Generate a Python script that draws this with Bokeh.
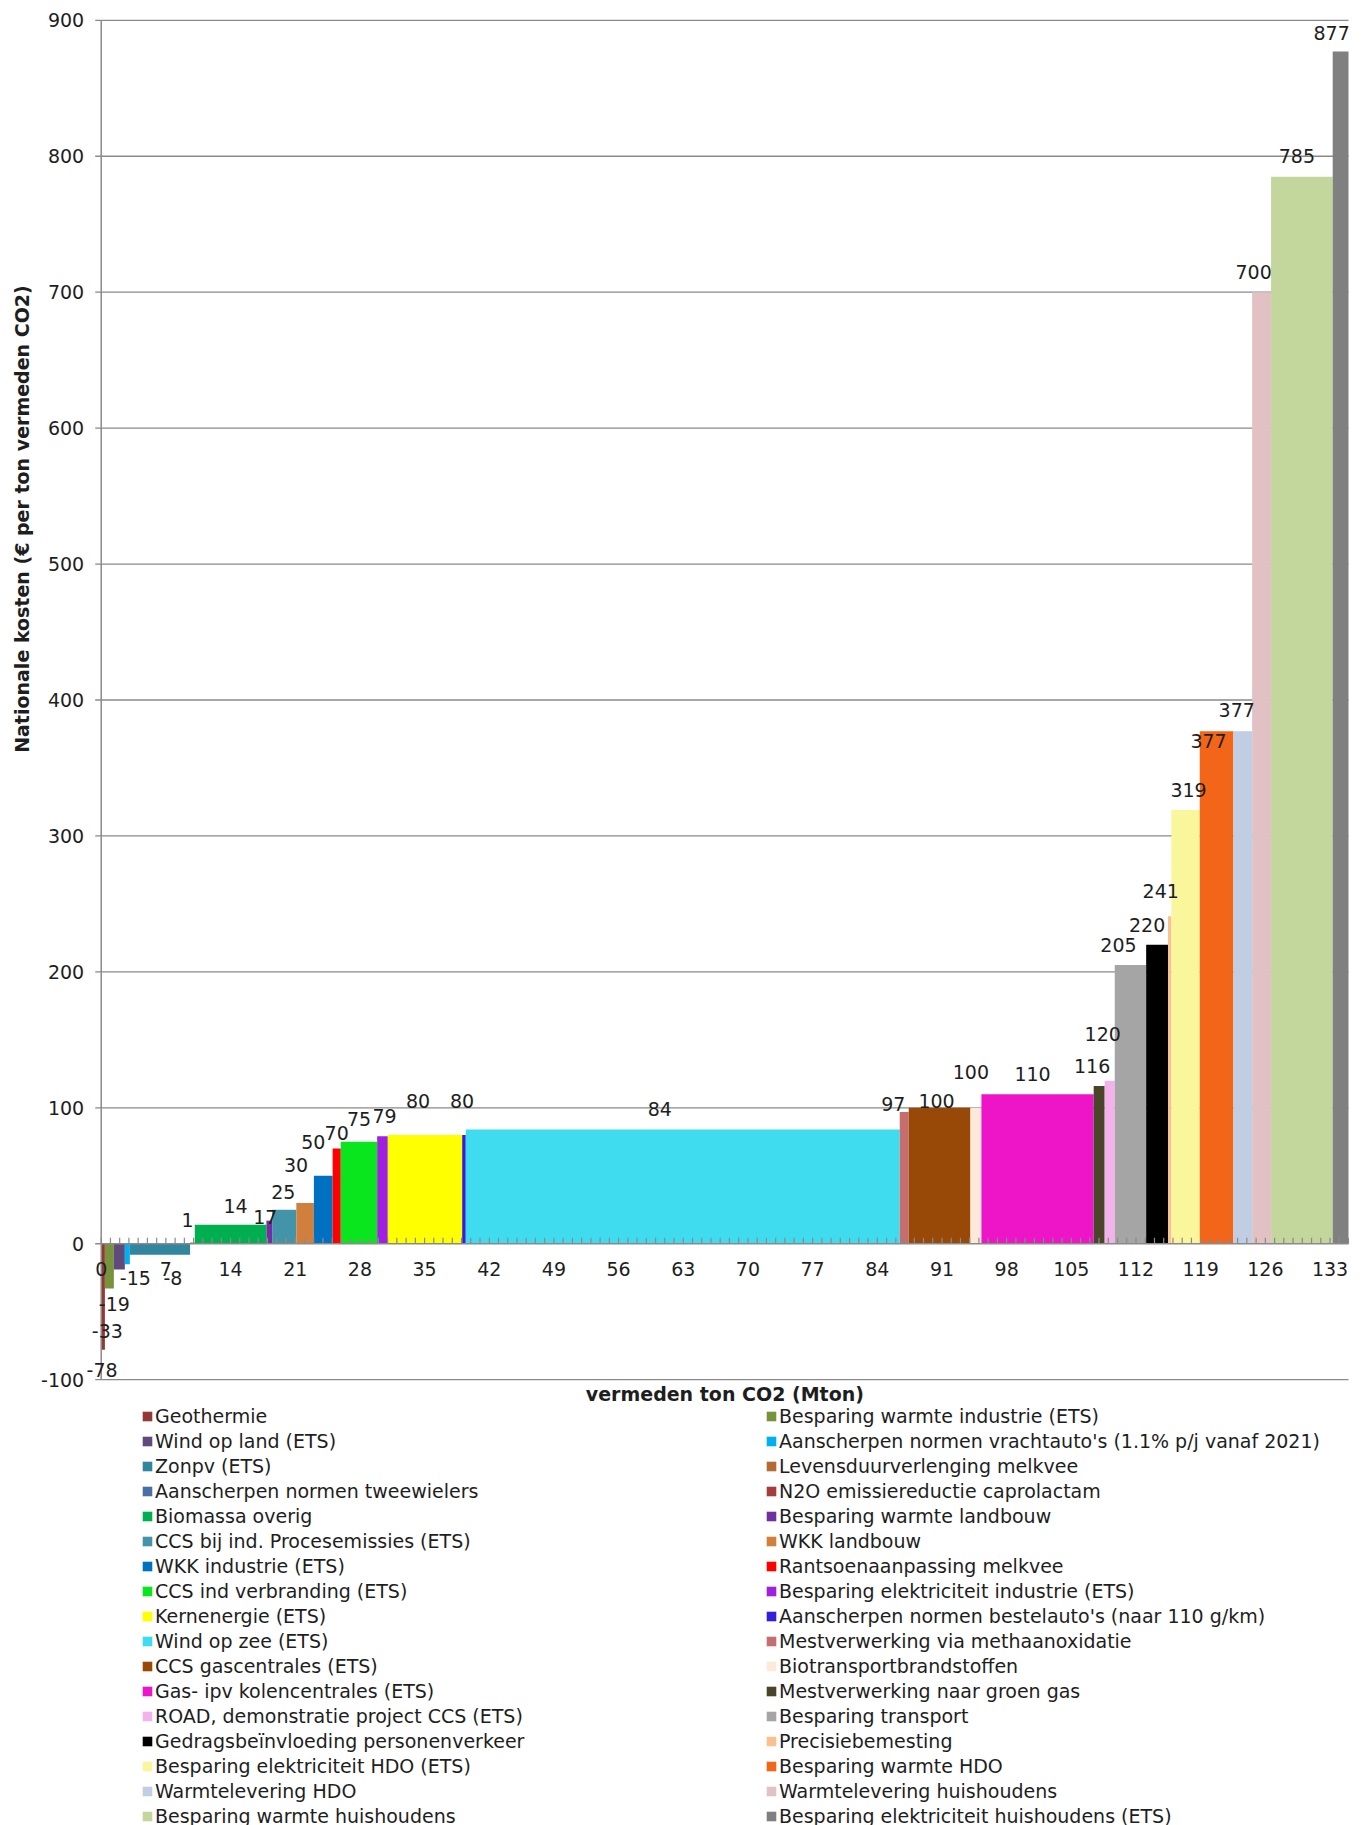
import numpy as np
from bokeh.plotting import figure
from bokeh.models import (ColumnDataSource, Range1d, Legend, LegendItem, LabelSet, Label)
from bokeh.core.properties import value
from bokeh.embed import file_html
from bokeh.resources import INLINE

# ---------------- data ----------------
measures = [
    "Geothermie",
    "Besparing warmte industrie (ETS)",
    "Wind op land (ETS)",
    "Aanscherpen normen vrachtauto's (1.1% p/j vanaf 2021)",
    "Zonpv (ETS)",
    "Levensduurverlenging melkvee",
    "Aanscherpen normen tweewielers",
    "N2O emissiereductie caprolactam",
    "Biomassa overig",
    "Besparing warmte landbouw",
    "CCS bij ind. Procesemissies (ETS)",
    "WKK landbouw",
    "WKK industrie (ETS)",
    "Rantsoenaanpassing melkvee",
    "CCS ind verbranding (ETS)",
    "Besparing elektriciteit industrie (ETS)",
    "Kernenergie (ETS)",
    "Aanscherpen normen bestelauto's (naar 110 g/km)",
    "Wind op zee (ETS)",
    "Mestverwerking via methaanoxidatie",
    "CCS gascentrales (ETS)",
    "Biotransportbrandstoffen",
    "Gas- ipv kolencentrales (ETS)",
    "Mestverwerking naar groen gas",
    "ROAD, demonstratie project CCS (ETS)",
    "Besparing transport",
    "Gedragsbeïnvloeding personenverkeer",
    "Precisiebemesting",
    "Besparing elektriciteit HDO (ETS)",
    "Besparing warmte HDO",
    "Warmtelevering HDO",
    "Warmtelevering huishoudens",
    "Besparing warmte huishoudens",
    "Besparing elektriciteit huishoudens (ETS)",
]

# national cost (EUR per ton avoided CO2)
cost = [-78, -33, -19, -15, -8, 1, 1, 1, 14, 17, 25, 30, 50, 70, 75, 79, 80, 80, 84,
        97, 100, 100, 110, 116, 120, 205, 220, 241, 319, 377, 377, 700, 785, 877]

# avoided CO2 (Mton) = bar widths
mton = [0.40, 0.97, 1.19, 0.54, 6.52, 0.51, 0.0, 0.0, 7.75, 0.62, 2.62, 1.90, 2.03, 0.88,
        3.94, 1.15, 8.05, 0.39, 46.97, 0.97, 6.68, 1.19, 12.15, 1.19, 1.09, 3.40, 2.37,
        0.36, 3.07, 3.64, 2.03, 2.05, 6.67, 1.71]

x_tick_values = list(range(0, 134, 7))
y_tick_values = [-100, 0, 100, 200, 300, 400, 500, 600, 700, 800, 900]
x_max = 135
y_min, y_max = -100, 900

y_title = "Nationale kosten (€ per ton vermeden CO2)"
x_title = "vermeden ton CO2 (Mton)"

# ---------------- styles ----------------
colors = ["#953735", "#77933C", "#604A7B", "#00B0F0", "#31859C", "#B46A33", "#4A6FA5",
          "#A23F3D", "#00B050", "#7030A0", "#4394A8", "#D0803C", "#0070C0", "#FF0000",
          "#0AE61E", "#A020E0", "#FFFF00", "#3320DD", "#3FDBEF", "#C66E6E", "#984807",
          "#FDE9D9", "#EE14C8", "#4A442A", "#F2B3EA", "#A5A5A5", "#000000", "#FAC090",
          "#F9F69B", "#F36518", "#C1CDE3", "#E2C1C4", "#C3D69B", "#808080"]

# label nudges in screen pixels (dx right, dy down)
label_dx = [-1, -2, -5, 8, 13, -5, 0, 0, 5, -4, -1, -9, -10, 0, 0, 2, -7, -2, -23, -11,
            -3, -5, -5, -7, -7, -12, -10, -9, 3, -8, -6, -8, -5, -9]
label_dy = [20, 42, 34, 14, 23, -22, 0, 0, -19, -4, -18, -38, -34, -16, -23, -20, -34, -34,
            -21, -8, -7, -36, -20, -20, -47, -20, -20, -25, -20, 10, -21, -20, -21, -19]

FONT = "DejaVu Sans"
GRID = "#8A8A8A"
TXT = "#1E1E1E"

# page geometry (pixels inside the figure)
W, H = 1360, 1825
AX_LEFT, AX_RIGHT = 100.7, 1348.0     # x = 0 and x = 135
AX_TOP, AX_BOTTOM = 19.8, 1379.2      # y = 900 and y = -100
px_x = (AX_RIGHT - AX_LEFT) / (x_max - 0)
px_y = (AX_BOTTOM - AX_TOP) / (y_max - y_min)

# ---------------- derived ----------------
right = np.cumsum(mton)
left = right - np.array(mton)
cost_arr = np.array(cost, dtype=float)
top = np.maximum(cost_arr, 0)
bottom = np.minimum(cost_arr, 0)
labels = [str(c) if w > 0 else "" for c, w in zip(cost, mton)]

bars = ColumnDataSource(dict(left=left, right=right, top=top, bottom=bottom,
                             color=colors, name=measures))
lab_src = ColumnDataSource(dict(x=(left + right) / 2, y=cost_arr, text=labels,
                                dx=label_dx, dy=[-d for d in label_dy]))
xt_src = ColumnDataSource(dict(x=x_tick_values, y=[0] * len(x_tick_values),
                               text=[str(v) for v in x_tick_values]))
yt_src = ColumnDataSource(dict(x=[0] * len(y_tick_values), y=y_tick_values,
                               text=[str(v) for v in y_tick_values]))

p = figure(width=W, height=H,
           x_range=Range1d(-AX_LEFT / px_x, (W - AX_LEFT) / px_x),
           y_range=Range1d(y_max - (H - AX_TOP) / px_y, y_max + AX_TOP / px_y),
           output_backend="svg", toolbar_location=None,
           x_axis_location=None, y_axis_location=None,
           min_border=0)
p.outline_line_color = None
p.background_fill_color = "white"
p.border_fill_color = "white"
p.xgrid.visible = False
p.ygrid.visible = False

# horizontal grid lines (not at 0, where the axis is)
grid_y = [v for v in y_tick_values if v != 0]
p.segment(x0=[0] * len(grid_y), x1=[x_max] * len(grid_y), y0=grid_y, y1=grid_y,
          line_color=GRID, line_width=1.3)

# bars
r = p.quad(left="left", right="right", top="top", bottom="bottom",
           fill_color="color", line_color=None, source=bars)

# y axis: line, outward ticks, labels
p.segment(x0=[0], x1=[0], y0=[y_min], y1=[y_max], line_color=GRID, line_width=1.5)
p.ray(x=[0] * len(y_tick_values), y=y_tick_values, length=6, length_units="screen",
      angle=180, angle_units="deg", line_color=GRID, line_width=1.3)
p.add_layout(LabelSet(x="x", y="y", text="text", source=yt_src, x_offset=-17,
                      text_align="right", text_baseline="middle",
                      text_font=value(FONT), text_font_size="19px", text_color=TXT))

# x axis at zero: line, inward minor ticks, labels
p.segment(x0=[0], x1=[x_max], y0=[0], y1=[0], line_color=GRID, line_width=1.5)
minor = np.arange(0, x_max + 1)
p.ray(x=minor, y=np.zeros(len(minor)), length=6, length_units="screen",
      angle=90, angle_units="deg", line_color=GRID, line_width=1.2)
p.add_layout(LabelSet(x="x", y="y", text="text", source=xt_src, y_offset=-25,
                      text_align="center", text_baseline="middle",
                      text_font=value(FONT), text_font_size="19px", text_color=TXT))

# data labels
p.add_layout(LabelSet(x="x", y="y", text="text", source=lab_src,
                      x_offset="dx", y_offset="dy",
                      text_align="center", text_baseline="middle",
                      text_font=value(FONT), text_font_size="19px", text_color=TXT))

# axis titles
p.add_layout(Label(x=0, y=y_max, x_offset=-79, y_offset=-265, text=y_title,
                   angle=90, angle_units="deg", text_align="right",
                   text_baseline="middle", text_font=FONT, text_font_style="bold",
                   text_font_size="19px", text_color=TXT))
p.add_layout(Label(x=x_max / 2, y=y_min, y_offset=-14, text=x_title,
                   text_align="center", text_baseline="middle", text_font=FONT,
                   text_font_style="bold", text_font_size="19px", text_color=TXT))

# legend: two columns, filled row by row as in the reference
order = list(range(0, len(measures), 2)) + list(range(1, len(measures), 2))
items = [LegendItem(label=value(measures[i]), renderers=[r], index=i) for i in order]
legend = Legend(items=items, orientation="vertical", nrows=17, location=(141, -3),
                margin=0, padding=2, spacing=0, glyph_width=12, glyph_height=12,
                label_standoff=2, label_width=610, label_height=25,
                label_text_font=FONT, label_text_font_size="19px",
                label_text_color=TXT, border_line_color=None,
                background_fill_alpha=0)
p.add_layout(legend, "center")

open("out.html", "w").write(file_html(p, INLINE))
